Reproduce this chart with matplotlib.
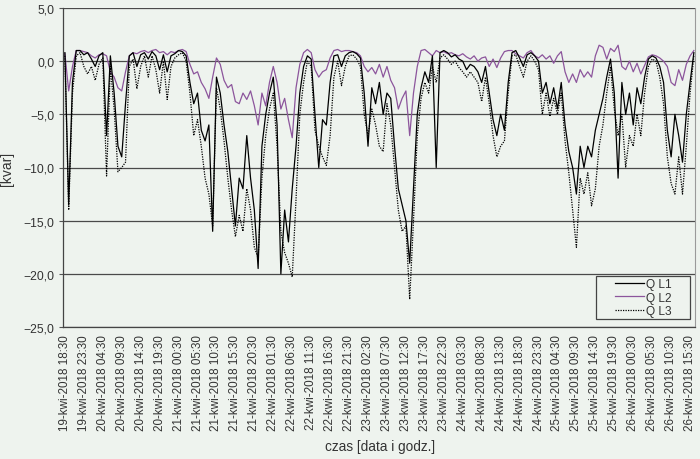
import numpy as np
import matplotlib
matplotlib.use("Agg")
import matplotlib.pyplot as plt
from matplotlib.patches import Rectangle

# hourly readings starting 19-kwi-2018 18:30
q_l1 = [0.8, -13.5, -2.0, 1.0, 1.0, 0.6, 0.8, 0.2, -0.5, 0.5,
        0.8, -7.0, 0.5, -3.0, -8.0, -9.0, -4.0, 0.5, 0.8, -0.5,
        0.6, 0.8, 0.2, 0.9, 0.5, -0.8, 0.6, -1.0, 0.5, 0.7,
        1.0, 0.9, 0.5, -2.0, -4.0, -3.0, -6.5, -7.5, -6.0, -16.0,
        -1.5, -3.0, -6.0, -8.5, -12.0, -15.5, -11.0, -12.0, -7.0, -11.0,
        -14.0, -19.5, -8.0, -5.0, -3.0, -1.5, -6.0, -20.0, -14.0, -17.0,
        -12.0, -8.0, -3.0, -0.5, 0.5, 0.2, -5.0, -10.0, -5.5, -6.0,
        -2.0, 0.5, 0.6, -0.5, 0.5, 0.8, 0.9, 0.7, 0.3, -3.0,
        -8.0, -2.5, -4.0, -2.0, -5.0, -3.0, -3.5, -8.0, -12.0, -13.5,
        -15.0, -19.0, -12.0, -5.0, -2.5, -1.0, -2.0, 0.5, -10.0, 0.8,
        1.0, 0.8, 0.4, 0.6, 0.2, 0.0, -0.8, -0.3, -0.5, -1.0,
        -2.0, -0.5, -3.0, -5.5, -7.0, -5.0, -6.5, -2.0, 0.8, 1.0,
        0.3, -0.5, 0.6, 0.8, 0.5, 0.0, -3.0, -2.0, -4.0, -2.5,
        -4.5, -2.0, -6.0, -8.5, -10.0, -12.5, -8.0, -10.0, -8.0, -9.0,
        -6.5, -5.0, -3.5, -1.5, 0.2, -3.0, -11.0, -2.0, -5.0, -3.0,
        -6.0, -2.5, -4.0, -1.5, 0.2, 0.5, 0.3, -0.5, -2.0, -6.5,
        -9.0, -5.0, -7.0, -9.5, -5.0, -2.0, 0.8]

q_l2 = [0.7, -2.8, -0.5, 1.0, 1.0, 0.9, 0.8, 0.5, 0.3, 0.6,
        0.7, 0.5, -1.0, -1.5, -2.5, -2.8, -1.0, 0.5, 0.8, 0.7,
        0.9, 1.0, 0.8, 1.0, 1.1, 0.8, 0.9, 0.6, 0.9, 0.8,
        1.0, 1.1, 0.9, -0.3, -1.2, -1.0, -2.0, -2.6, -3.5, -1.5,
        0.3, -0.3, -1.8, -2.5, -2.2, -3.8, -4.0, -3.0, -3.6, -2.8,
        -4.2, -6.0, -3.0, -4.2, -2.0, -0.5, -2.0, -4.5, -3.5, -5.5,
        -7.2, -2.5, -0.3, 0.8, 1.1, 0.8, -0.8, -1.5, -1.0, -0.8,
        0.3, 1.0, 1.1, 0.9, 1.0, 1.0, 0.9, 0.8, 0.5, -0.5,
        -1.0, -0.6, -1.2, -0.3, -1.5, -0.5, -1.8, -2.5, -4.5, -3.5,
        -2.8, -7.0, -3.0, -0.5, 1.0, 1.1, 0.8, 0.5, 1.0, 0.8,
        0.9, 0.7, 0.8, 0.6, 0.5, 0.7, 0.4, 0.2, 0.5, 0.0,
        0.3, 0.4, -0.5, 0.2, -0.6, 0.3, 0.9, 1.0, 1.0, 0.7,
        0.5, 0.3, 0.8, 1.0, 0.5, 0.3, 0.6, 0.2, 0.5, -0.2,
        0.5, 0.9, -1.0, -2.0, -1.2, -2.0, -0.8, -1.5, -1.0, -1.5,
        0.5, 1.5, 1.3, 0.2, 1.2, 0.9, 1.5, -0.5, -0.8, 0.0,
        -1.0, -0.2, -1.2, -0.4, 0.4, 0.6, 0.5, 0.3, 0.0, -0.5,
        -2.0, -2.3, -0.8, -1.8, -0.3, 0.5, 1.0]

q_l3 = [0.5, -14.0, -3.0, 0.5, 0.8, -0.5, -1.2, -0.5, -1.8, -0.3,
        0.3, -10.8, -0.5, -4.5, -10.4, -10.0, -9.5, -0.5, 0.2, -2.6,
        -0.5, 0.5, -1.5, 0.5, -0.8, -3.0, 0.0, -3.6, -0.5, 0.3,
        0.6, 0.8, 0.0, -3.0, -7.0, -5.5, -8.0, -11.0, -12.5, -15.5,
        -2.5, -4.5, -7.5, -11.0, -14.0, -16.5, -14.5, -16.0, -12.0, -14.0,
        -17.5, -18.5, -11.0, -7.0, -4.5, -3.0, -8.0, -16.0, -18.0, -19.0,
        -20.3, -13.0, -5.0, -2.0, 0.0, -0.5, -6.5, -8.0, -9.0, -9.8,
        -7.0, -1.5, 0.0, -2.3, -0.5, 0.5, 0.6, 0.2, -0.5, -5.0,
        -7.0, -4.5, -6.0, -8.0, -8.5, -4.0, -6.0, -10.0, -14.0, -16.0,
        -15.5, -22.4, -15.0, -7.0, -3.5, -2.0, -3.0, -0.5, -2.0, 0.3,
        0.6, 0.2, -0.3, 0.0, -0.6, -1.0, -1.5, -1.0, -1.5, -2.0,
        -3.8, -1.5, -4.0, -7.0, -9.0, -8.0, -7.5, -3.0, 0.5, 0.6,
        -0.5, -1.5, 0.0, 0.5, 0.0, -0.8, -5.0, -3.0, -5.2, -3.5,
        -5.0, -3.0, -7.5, -10.5, -14.0, -17.5, -11.0, -12.5, -10.5, -13.6,
        -12.0, -8.0, -6.0, -3.0, -0.5, -4.5, -7.0, -5.0, -10.0, -7.0,
        -8.0, -5.0, -7.0, -3.0, -0.5, 0.2, 0.0, -1.5, -4.0, -9.0,
        -11.5, -12.5, -9.0, -12.5, -8.0, -3.0, 0.5]

tick_labels = [
    "19-kwi-2018 18:30", "19-kwi-2018 23:30", "20-kwi-2018 04:30",
    "20-kwi-2018 09:30", "20-kwi-2018 14:30", "20-kwi-2018 19:30",
    "21-kwi-2018 00:30", "21-kwi-2018 05:30", "21-kwi-2018 10:30",
    "21-kwi-2018 15:30", "21-kwi-2018 20:30", "22-kwi-2018 01:30",
    "22-kwi-2018 06:30", "22-kwi-2018 11:30", "22-kwi-2018 16:30",
    "22-kwi-2018 21:30", "23-kwi-2018 02:30", "23-kwi-2018 07:30",
    "23-kwi-2018 12:30", "23-kwi-2018 17:30", "23-kwi-2018 22:30",
    "24-kwi-2018 03:30", "24-kwi-2018 08:30", "24-kwi-2018 13:30",
    "24-kwi-2018 18:30", "24-kwi-2018 23:30", "25-kwi-2018 04:30",
    "25-kwi-2018 09:30", "25-kwi-2018 14:30", "25-kwi-2018 19:30",
    "26-kwi-2018 00:30", "26-kwi-2018 05:30", "26-kwi-2018 10:30",
    "26-kwi-2018 15:30",
]
tick_step = 5  # hours between labels

y_ticks = [5, 0, -5, -10, -15, -20, -25]

bg = "#eef3ee"
purple = "#8c559c"
txt = "#333333"

plt.rcParams['font.family'] = ['Liberation Sans', 'DejaVu Sans']

fig = plt.figure(figsize=(7, 4.6), dpi=100, facecolor=bg)
ax = fig.add_axes([63/700, 1 - 328/460, (695 - 63)/700, (328 - 9)/460])
ax.set_facecolor(bg)

hours = np.arange(len(q_l1))
ax.plot(hours, q_l1, color="black", lw=0.9, label="Q L1", zorder=3)
ax.plot(hours, q_l2, color=purple, lw=0.9, label="Q L2", zorder=2)
ax.plot(hours, q_l3, color="black", lw=0.9, ls=(0, (1, 1)), label="Q L3", zorder=3)

ax.set_xlim(-0.5, 166.3)
ax.set_ylim(-25, 5)
ax.set_yticks(y_ticks)
ax.set_yticklabels([("%.1f" % v).replace(".", ",").replace("-", "\u2212") for v in y_ticks],
                   fontsize=8.8, color=txt)
ax.set_xticks(np.arange(len(tick_labels)) * tick_step)
ax.set_xticklabels(tick_labels, rotation=90, fontsize=8.4, color=txt)
ax.tick_params(axis="x", length=0, pad=5)
ax.tick_params(axis="y", length=3, color="#555555", pad=3)

for v in y_ticks:
    ax.axhline(v, color="#4a4a4a", lw=0.9, zorder=1)

for side in ["left", "bottom"]:
    ax.spines[side].set_color("#444444")
    ax.spines[side].set_linewidth(0.9)
ax.spines["top"].set_visible(False)
ax.spines["right"].set_color("#9a9a9a")
ax.spines["right"].set_linewidth(0.8)

ax.set_ylabel("[kvar]", fontsize=10, color=txt)
ax.yaxis.set_label_coords(-0.078, 0.5)
fig.text(380/700, 1 - 447/460, "czas [data i godz.]", ha="center", va="center",
         fontsize=9.8, color=txt)

# legend box drawn separately so it can be wider than its entries
ax.add_patch(Rectangle((0.843, 0.025), 0.149, 0.135, transform=ax.transAxes,
                       facecolor=bg, edgecolor="#444444", lw=0.9, zorder=4))
leg = ax.legend(loc="center", bbox_to_anchor=(0.918, 0.092), fontsize=8.6,
                frameon=False, handlelength=2.4, handletextpad=0.15,
                borderpad=0.0, borderaxespad=0.0, labelspacing=0.15)
leg.set_zorder(5)
for t in leg.get_texts():
    t.set_color(txt)

fig.savefig("out.png", dpi=100, facecolor=bg)
